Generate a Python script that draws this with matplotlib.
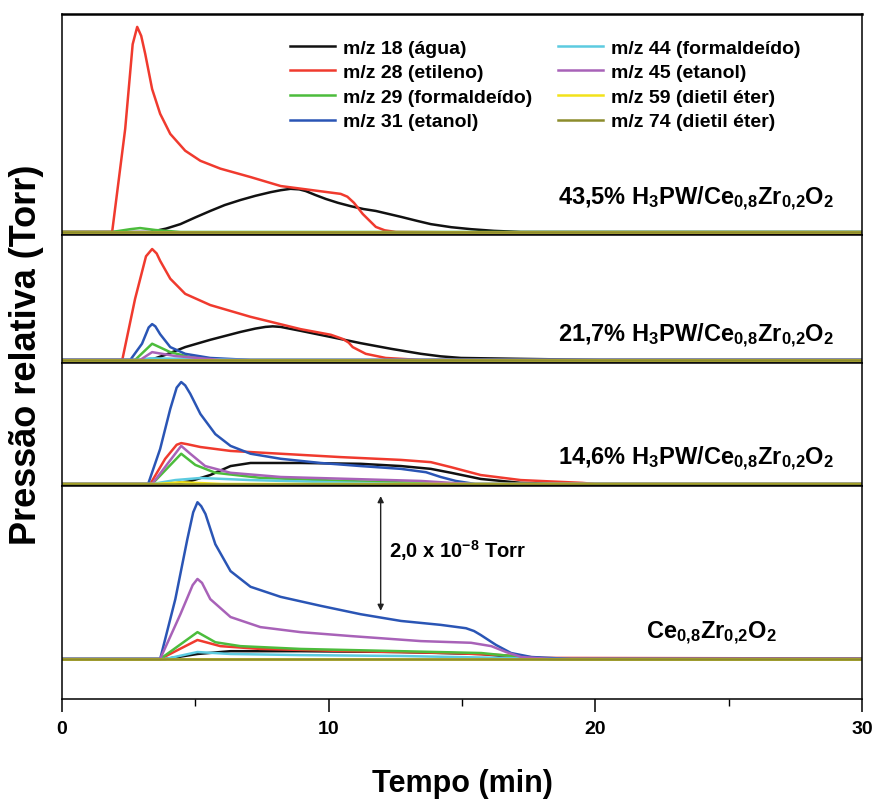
"""
Makes stacked desorption curves (m/z signals) for the four catalysts
"""
import matplotlib.pyplot as plt

# time in min, signal in 1e-9 Torr above each baseline

# ---- 43,5% H3PW/Ce0,8Zr0,2O2
t_a18 = [0, 3.31, 3.9, 4.44, 5.0, 5.56, 6.1, 6.69, 7.25, 7.82, 8.2, 8.57, 8.9, 9.14, 9.5, 9.89, 10.35,
         10.83, 11.3, 11.77, 12.71, 13.3, 13.83, 14.6, 15.34, 16.2, 17.2, 30]
y_a18 = [0, 0, 0.6, 1.4, 2.6, 3.75, 4.8, 5.7, 6.45, 7.1, 7.45, 7.7, 7.6, 7.3, 6.6, 5.9, 5.2,
         4.6, 4.1, 3.75, 2.7, 2.0, 1.4, 0.85, 0.5, 0.2, 0, 0]
t_a28 = [0, 1.88, 2.37, 2.65, 2.82, 2.97, 3.12, 3.38, 3.68, 4.06, 4.62, 5.19, 5.94, 7.07, 8.2, 9.32, 10.45,
         10.7, 10.95, 11.28, 11.77, 12.1, 12.52, 20.2, 30]
y_a28 = [0, 0, 18.4, 33.5, 36.6, 35.0, 31.8, 25.5, 21.1, 17.5, 14.5, 12.7, 11.3, 9.8, 8.2, 7.5, 6.8,
         6.3, 5.2, 3.2, 0.9, 0.3, 0, -0.2, -0.6]
t_a29 = [0, 1.88, 2.56, 2.93, 3.5, 4.44, 30]
y_a29 = [0, 0, 0.5, 0.7, 0.35, 0, 0]

# ---- 21,7% H3PW/Ce0,8Zr0,2O2
t_b18 = [0, 3.31, 3.87, 4.62, 5.56, 6.69, 7.25, 7.63, 7.9, 8.2, 8.95, 10.08, 11.2, 12.33, 13.46, 14.2,
         14.96, 17.2, 20.2, 30]
y_b18 = [0, 0, 0.9, 2.3, 3.6, 5.0, 5.6, 5.9, 6.0, 5.9, 5.2, 4.1, 3.0, 2.0, 1.1, 0.65,
         0.36, 0.2, 0, 0]
t_b28 = [0, 2.26, 2.74, 3.15, 3.38, 3.55, 3.68, 4.06, 4.62, 5.56, 7.07, 8.95, 10.08, 10.53, 10.75, 10.9,
         11.39, 12.14, 13.46, 30]
y_b28 = [0, 0, 10.9, 18.5, 19.8, 19.0, 17.7, 14.5, 11.8, 9.8, 7.7, 5.5, 4.5, 3.75, 3.1, 2.3,
         1.1, 0.36, 0, 0]
t_b29 = [0, 2.74, 3.38, 4.06, 4.81, 6.32, 30]
y_b29 = [0, 0, 2.9, 1.4, 0.5, 0, 0]
t_b31 = [0, 2.56, 3.0, 3.25, 3.38, 3.5, 3.68, 4.06, 4.62, 5.56, 7.07, 30]
y_b31 = [0, 0, 2.9, 5.8, 6.4, 6.0, 4.6, 2.3, 1.1, 0.36, 0, 0]
t_b44 = [0, 2.9, 3.31, 4.5, 7.07, 30]
y_b44 = [0, 0, 0.3, 0.2, 0, 0]
t_b45 = [0, 2.93, 3.38, 4.25, 5.94, 30]
y_b45 = [0, 0, 1.4, 0.7, 0, 0]

# ---- 14,6% H3PW/Ce0,8Zr0,2O2
t_c18 = [0, 4.06, 4.81, 5.56, 6.32, 7.07, 8.95, 11.2, 12.71, 13.83, 14.59, 15.7, 17.2, 18.7, 30]
y_c18 = [0, 0, 0.5, 1.6, 3.2, 3.75, 3.75, 3.6, 3.2, 2.7, 2.0, 0.9, 0.2, 0, 0]
t_c28 = [0, 3.31, 3.87, 4.3, 4.47, 4.7, 5.19, 6.32, 8.2, 10.45, 12.71, 13.83, 14.59, 15.7, 17.2, 19.5, 20.0, 30]
y_c28 = [0, 0, 4.5, 7.0, 7.3, 7.1, 6.6, 5.9, 5.4, 4.8, 4.3, 3.9, 3.0, 1.6, 0.7, 0.2, 0, 0]
t_c29 = [0, 3.38, 4.47, 5.0, 5.75, 7.44, 10.83, 13.46, 14.59, 30]
y_c29 = [0, 0, 5.4, 3.4, 2.0, 1.1, 0.5, 0.2, 0, 0]
t_c31 = [0, 3.23, 3.68, 4.06, 4.3, 4.47, 4.62, 4.81, 5.19, 5.75, 6.32, 7.07, 8.2, 9.7, 11.2, 12.71,
         13.65, 14.2, 14.77, 15.5, 30]
y_c31 = [0, 0, 6.25, 13.4, 17.2, 18.2, 17.6, 16.1, 12.5, 8.9, 6.8, 5.4, 4.5, 3.75, 3.2, 2.7,
         2.1, 1.25, 0.54, 0, 0]
t_c44 = [0, 3.38, 4.25, 5.19, 7.07, 9.7, 12.71, 30]
y_c44 = [0, 0, 0.7, 1.07, 0.7, 0.36, 0, 0]
t_c45 = [0, 3.38, 4.47, 4.81, 5.37, 6.32, 8.2, 10.83, 13.46, 14.59, 15.34, 30]
y_c45 = [0, 0, 6.8, 5.4, 3.2, 2.0, 1.25, 0.9, 0.54, 0.2, 0, 0]
t_c59 = [0, 3.5, 4.5, 6.0, 30]
y_c59 = [0, 0, 0.3, 0, 0]

# ---- Ce0,8Zr0,2O2
t_d18 = [0, 3.87, 5.08, 6.32, 8.95, 12.71, 15.72, 17.22, 18.5, 30]
y_d18 = [0, 0, 0.9, 1.4, 1.4, 1.25, 0.9, 0.2, 0, 0]
t_d28 = [0, 3.68, 5.08, 5.94, 7.44, 10.83, 14.59, 16.47, 17.97, 30]
y_d28 = [0, 0, 3.4, 2.3, 1.8, 1.4, 1.07, 0.7, 0.2, 0.1]
t_d29 = [0, 3.68, 5.08, 5.75, 6.69, 8.95, 12.71, 15.72, 17.22, 18.35, 30]
y_d29 = [0, 0, 4.8, 3.0, 2.3, 1.8, 1.4, 1.07, 0.36, 0, 0]
t_d31 = [0, 3.68, 4.25, 4.7, 4.92, 5.08, 5.22, 5.38, 5.75, 6.32, 7.07, 8.2, 9.7, 11.2, 12.71, 14.2,
         15.15, 15.45, 15.7, 16.28, 16.84, 17.6, 19.1, 30]
y_d31 = [0, 0, 10.7, 21.4, 26.2, 28.0, 27.3, 25.9, 20.5, 15.7, 12.9, 11.1, 9.5, 8.0, 6.8, 6.1,
         5.5, 5.0, 4.3, 2.5, 1.07, 0.36, 0, 0]
t_d44 = [0, 3.87, 5.08, 6.32, 8.95, 12.71, 16.47, 18.0, 30]
y_d44 = [0, 0, 1.25, 0.9, 0.7, 0.54, 0.2, 0, 0]
t_d45 = [0, 3.68, 4.44, 4.9, 5.08, 5.25, 5.56, 6.32, 7.44, 8.95, 10.83, 13.46, 15.34, 16.1, 16.65,
         17.22, 18.35, 30]
y_d45 = [0, 0, 8.0, 13.2, 14.3, 13.6, 10.7, 7.5, 5.7, 4.8, 4.1, 3.2, 2.9, 2.3, 1.25,
         0.36, 0, 0]

t_flat = [0, 30]
y_flat = [0, 0]

labels = ['m/z 18 (água)', 'm/z 28 (etileno)', 'm/z 29 (formaldeído)', 'm/z 31 (etanol)',
          'm/z 44 (formaldeído)', 'm/z 45 (etanol)', 'm/z 59 (dietil éter)', 'm/z 74 (dietil éter)']
colors = ['#111111', '#f03a2e', '#4cbc3c', '#2a55b5', '#5ccbe0', '#a862b8', '#f2e21a', '#8c8c2c']

tail = 'PW/Ce$_{0{,}8}$Zr$_{0{,}2}$O$_2$'
panel_names = ['43,5% H$_3$' + tail,
               '21,7% H$_3$' + tail,
               '14,6% H$_3$' + tail,
               'Ce$_{0{,}8}$Zr$_{0{,}2}$O$_2$']

panels = [
    [(t_a18, y_a18), (t_a28, y_a28), (t_a29, y_a29), (t_flat, y_flat),
     (t_flat, y_flat), (t_flat, y_flat), (t_flat, y_flat), (t_flat, y_flat)],
    [(t_b18, y_b18), (t_b28, y_b28), (t_b29, y_b29), (t_b31, y_b31),
     (t_b44, y_b44), (t_b45, y_b45), (t_flat, y_flat), (t_flat, y_flat)],
    [(t_c18, y_c18), (t_c28, y_c28), (t_c29, y_c29), (t_c31, y_c31),
     (t_c44, y_c44), (t_c45, y_c45), (t_c59, y_c59), (t_flat, y_flat)],
    [(t_d18, y_d18), (t_d28, y_d28), (t_d29, y_d29), (t_d31, y_d31),
     (t_d44, y_d44), (t_d45, y_d45), (t_flat, y_flat), (t_flat, y_flat)],
]

plt.rcParams['font.family'] = ['Liberation Sans', 'DejaVu Sans']
plt.rcParams['font.weight'] = 'bold'
plt.rcParams['mathtext.default'] = 'regular'

W, H = 873, 803
fig = plt.figure(figsize=(W / 100, H / 100), dpi=100)

# pixel boundaries of the four stacked boxes, and the y-range (1e-9 Torr) of each
edges = [15, 236, 364, 487, 700]
ylims = [(-0.54, 38.9), (-0.54, 22.3), (-0.36, 21.6), (-7.14, 30.9)]
left, right = 62, 862

axes = []
for i in range(4):
    ax = fig.add_axes([left / W, 1 - edges[i + 1] / H, (right - left) / W, (edges[i + 1] - edges[i]) / H])
    for (t, y), c, lab in zip(panels[i], colors, labels):
        ax.plot(t, y, color=c, lw=1.8, label=lab, solid_joinstyle='round')
    ax.set_xlim(0, 30)
    ax.set_ylim(*ylims[i])
    ax.set_yticks([])
    for s in ax.spines.values():
        s.set_linewidth(1.1)
    if i < 3:
        ax.set_xticks([])
    axes.append(ax)
axes[0].spines['top'].set_linewidth(1.8)

# panel names
axes[0].text(28.95, 5.0, panel_names[0], ha='right', va='baseline', fontsize=17)
axes[1].text(28.95, 3.4, panel_names[1], ha='right', va='baseline', fontsize=17)
axes[2].text(28.95, 3.6, panel_names[2], ha='right', va='baseline', fontsize=17)
axes[3].text(21.9, 3.9, panel_names[3], ha='left', va='baseline', fontsize=17)

# scale bar
axes[3].annotate('', xy=(11.95, 29.1), xytext=(11.95, 8.6),
                 arrowprops=dict(arrowstyle='<|-|>', color='#222222', lw=1.0,
                                 mutation_scale=9, shrinkA=0, shrinkB=0))
axes[3].text(12.25, 19.6, '2,0 x 10$^{-8}$ Torr', ha='left', va='center', fontsize=14.5)

axes[0].legend(loc='upper left', bbox_to_anchor=(0.275, 0.922), ncol=2, frameon=False,
               fontsize=14, handlelength=2.3, labelspacing=0.36, columnspacing=1.3,
               handletextpad=0.45, borderaxespad=0)

ax = axes[3]
ax.set_xticks([0, 10, 20, 30])
ax.set_xticks([5, 15, 25], minor=True)
ax.tick_params(axis='x', which='major', length=9, width=1.1, labelsize=14, pad=6)
ax.tick_params(axis='x', which='minor', length=5, width=1.0)

fig.text(462 / W, 1 - 784 / H, 'Tempo (min)', ha='center', va='center', fontsize=22)
fig.text(27 / W, 1 - 355 / H, 'Pressão relativa (Torr)', ha='center', va='center',
         rotation=90, fontsize=26)

fig.savefig('out.png', dpi=100)
